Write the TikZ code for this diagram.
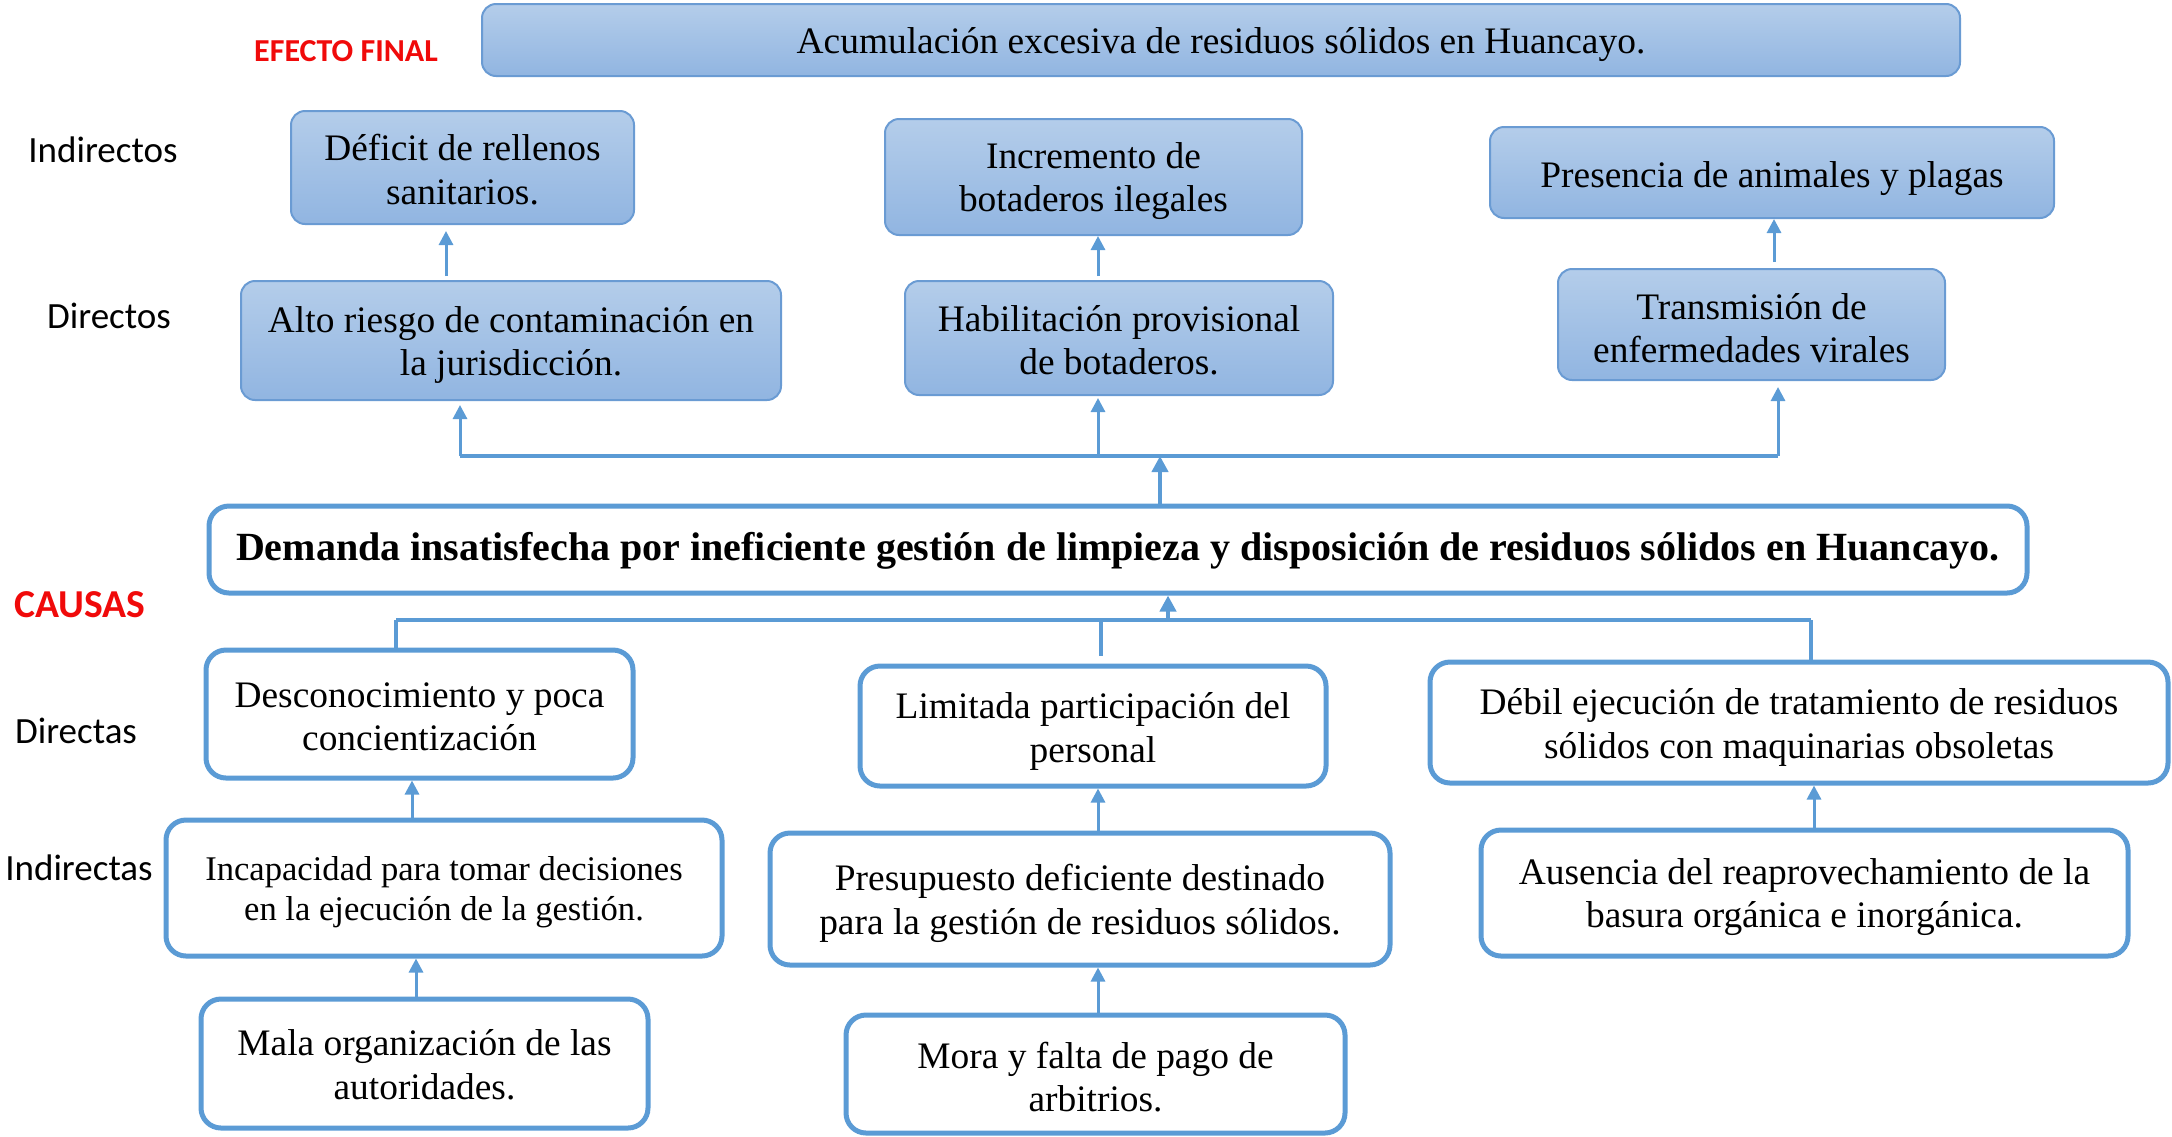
\documentclass[tikz,border=0pt]{standalone}
\usepackage{fontspec}
\setmainfont{Liberation Serif}
\newfontfamily\lab{Carlito}
\usetikzlibrary{arrows.meta,calc}
\definecolor{bl}{HTML}{5B9BD5}
\definecolor{effborder}{HTML}{6A9BD3}
\definecolor{efftop}{HTML}{B4CDEA}
\definecolor{effbot}{HTML}{91B5E1}
\definecolor{lred}{HTML}{F00A0A}
\tikzset{
  effbox/.style={draw=effborder, line width=1pt, rounded corners=7pt, top color=efftop, bottom color=effbot, inner sep=0pt},
  causebox/.style={draw=bl, line width=2.5pt, rounded corners=10pt, fill=white, inner sep=0pt},
  btext/.style={align=center, inner sep=0pt, font=\fontsize{18.7}{21.7}\selectfont},
  lbl/.style={font=\lab\fontsize{18.5}{22}\selectfont, inner sep=0pt},
  redlbl/.style={font=\lab\bfseries\fontsize{16}{19}\selectfont, text=lred, inner sep=0pt},
  arr/.style={draw=bl, line width=1.5pt, -{Triangle[width=7pt,length=7pt]}},
  conn/.style={draw=bl, line width=1.6pt},
  thickarr/.style={draw=bl, line width=2.4pt, -{Triangle[width=8pt,length=8pt]}},
}
\begin{document}
\begin{tikzpicture}[x=0.5pt,y=-0.5pt]
\useasboundingbox (0,0) rectangle (2172,1136);

% labels
\node[redlbl] (lef) at (346,51) {EFECTO FINAL};
\node[lbl] (lind) at (103,150) {Indirectos};
\node[lbl] (ldir) at (109,316) {Directos};
\node[redlbl, font=\lab\bfseries\fontsize{19.8}{23}\selectfont] (lcau) at (80,605) {CAUSAS};
\node[lbl] (ldira) at (76,731) {Directas};
\node[lbl] (linda) at (79,868) {Indirectas};

% effects
\node[effbox, minimum width=739pt, minimum height=36pt] (top) at (1221,40) {};
\node[btext] (topT) at ([yshift=-2.1pt]top.center) {Acumulación excesiva de residuos sólidos en Huancayo.};
\node[effbox, minimum width=171.5pt, minimum height=56.5pt] (defi) at (462.5,167.5) {};
\node[btext] (defiT) at ([yshift=-1pt]defi.center) {Déficit de rellenos\\sanitarios.};
\node[effbox, minimum width=270pt, minimum height=59.5pt] (alto) at (511,340.5) {};
\node[btext] (altoT) at ([yshift=-2.3pt]alto.center) {Alto riesgo de contaminación en\\la jurisdicción.};
\node[effbox, minimum width=208.5pt, minimum height=58pt] (incr) at (1093.5,177) {};
\node[btext] (incrT) at ([yshift=-2.1pt]incr.center) {Incremento de\\botaderos ilegales};
\node[effbox, minimum width=214pt, minimum height=57pt] (habi) at (1119,338) {};
\node[btext] (habiT) at ([yshift=-1pt]habi.center) {Habilitación provisional\\de botaderos.};
\node[effbox, minimum width=282pt, minimum height=45.5pt] (pres) at (1772,172.5) {};
\node[btext] (presT) at ([yshift=-2.8pt]pres.center) {Presencia de animales y plagas};
\node[effbox, minimum width=193.5pt, minimum height=55.5pt] (tran) at (1751.5,324.5) {};
\node[btext] (tranT) at ([yshift=-1.7pt]tran.center) {Transmisión de\\enfermedades virales};

% main
\node[causebox, minimum width=909pt, minimum height=43.5pt] (main) at (1118,549.5) {};
\node[btext, font=\bfseries\fontsize{20}{23}\selectfont] (mainT) at ([yshift=-0.7pt]main.center) {Demanda insatisfecha por ineficiente gestión de limpieza y disposición de residuos sólidos en Huancayo.};

% causes
\node[causebox, minimum width=213.5pt, minimum height=64pt] (desc) at (419.5,714) {};
\node[btext] (descT) at ([yshift=-1.4pt]desc.center) {Desconocimiento y poca\\concientización};
\node[causebox, minimum width=233pt, minimum height=60pt] (limi) at (1093,726) {};
\node[btext] (limiT) at ([yshift=-2.8pt]limi.center) {Limitada participación del\\personal};
\node[causebox, minimum width=369pt, minimum height=60.5pt] (debi) at (1799,722.5) {};
\node[btext] (debiT) at ([yshift=-2.4pt]debi.center) {Débil ejecución de tratamiento de residuos\\sólidos con maquinarias obsoletas};
\node[causebox, minimum width=278pt, minimum height=68pt] (inca) at (444,888) {};
\node[btext, font=\fontsize{17.3}{20.2}\selectfont] (incaT) at ([yshift=-2pt]inca.center) {Incapacidad para tomar decisiones\\en la ejecución de la gestión.};
\node[causebox, minimum width=310pt, minimum height=66pt] (pres2) at (1080,899) {};
\node[btext] (pres2T) at ([yshift=-2.1pt]pres2.center) {Presupuesto deficiente destinado\\para la gestión de residuos sólidos.};
\node[causebox, minimum width=323.5pt, minimum height=63pt] (ause) at (1804.5,893) {};
\node[btext] (auseT) at ([yshift=-2.1pt]ause.center) {Ausencia del reaprovechamiento de la\\basura orgánica e inorgánica.};
\node[causebox, minimum width=223.5pt, minimum height=64.5pt] (mala) at (424.5,1063.5) {};
\node[btext] (malaT) at ([yshift=-0.7pt]mala.center) {Mala organización de las\\autoridades.};
\node[causebox, minimum width=249.5pt, minimum height=59pt] (mora) at (1095.5,1074) {};
\node[btext] (moraT) at ([yshift=-1.4pt]mora.center) {Mora y falta de pago de\\arbitrios.};

% column coordinates
\coordinate (xa) at (446,0);
\coordinate (xb) at (1098,0);
\coordinate (xc) at (1774,0);
\coordinate (ej) at (1160,456);
\coordinate (eL) at (460,456);
\coordinate (eM) at (1098,456);
\coordinate (eR) at (1778,456);
\coordinate (cj) at (1168,620);
\coordinate (cL) at (396,620);
\coordinate (cM) at (1101,620);
\coordinate (cMe) at (1101,656);
\coordinate (cR) at (1811,620);
\coordinate (xd) at (412,0);
\coordinate (xe) at (416,0);
\coordinate (xf) at (1098,0);
\coordinate (xg) at (1814,0);

% effect arrows
\draw[arr] ([yshift=2pt]xa |- alto.north) -- ([yshift=-3pt]xa |- defi.south);
\draw[arr] ([yshift=2pt]xb |- habi.north) -- (xb |- incr.south);
\draw[arr] ([yshift=3pt]xc |- tran.north) -- (xc |- pres.south);

% effect tree
\draw[thickarr] (ej |- main.north) -- (ej);
\draw[conn, line width=2pt] (eL) -- (eR);
\draw[arr, shorten >=2pt] (eL) -- (eL |- alto.south);
\draw[arr, shorten >=1pt] (eM) -- (eM |- habi.south);
\draw[arr, shorten >=3pt] (eR) -- (eR |- tran.south);

% cause tree
\draw[thickarr, line width=2pt] (cj) -- (cj |- main.south);
\draw[conn] (cL) -- (cR);
\draw[conn] (cL) -- (cL |- desc.north);
\draw[conn] (cM) -- (cMe);
\draw[conn] (cR) -- (cR |- debi.north);

% cause arrows
\draw[arr] (xd |- inca.north) -- (xd |- desc.south);
\draw[arr] (xe |- mala.north) -- (xe |- inca.south);
\draw[arr] (xf |- pres2.north) -- (xf |- limi.south);
\draw[arr] (xf |- mora.north) -- (xf |- pres2.south);
\draw[arr] (xg |- ause.north) -- (xg |- debi.south);
\end{tikzpicture}
\end{document}
